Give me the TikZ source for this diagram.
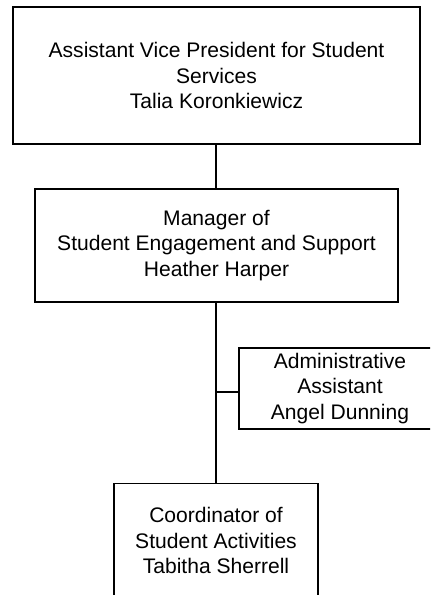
\documentclass[tikz,border=0pt]{standalone}
\usepackage{fontspec}
\setmainfont{Liberation Sans}
\begin{document}
\begin{tikzpicture}[x=0.75pt,y=-0.75pt,
  box/.style={draw=black,line width=1pt,fill=white,rectangle,align=center,inner sep=0pt,
    font=\fontsize{15.8}{19.2}\selectfont},
  link/.style={draw=black,line width=1pt}]
\useasboundingbox (0,0) rectangle (430,595);
\clip (0,0) rectangle (430,595);
\fill[white] (0,0) rectangle (430,595);
\node[box,minimum width=305.25pt,minimum height=102.75pt] (avp) at (216.5,75.5)
  {Assistant Vice President for Student\\Services\\Talia Koronkiewicz};
\node[box,minimum width=272.25pt,minimum height=84.75pt] (mgr) at (216.5,245.5)
  {Manager of\\Student Engagement and Support\\Heather Harper};
\node[box,minimum width=151.5pt,minimum height=60.75pt] (adm) at (340,388.5)
  {Administrative\\Assistant\\Angel Dunning};
\node[box,minimum width=153pt,minimum height=86pt] (crd) at (216,540.5)
  {Coordinator of\\Student Activities\\Tabitha Sherrell};
\coordinate (j) at (216,392);
\draw[link] (avp.south -| j) -- (mgr.north -| j);
\draw[link] (mgr.south -| j) -- (crd.north -| j);
\draw[link] (j) -- (adm.west |- j);
\end{tikzpicture}
\end{document}
